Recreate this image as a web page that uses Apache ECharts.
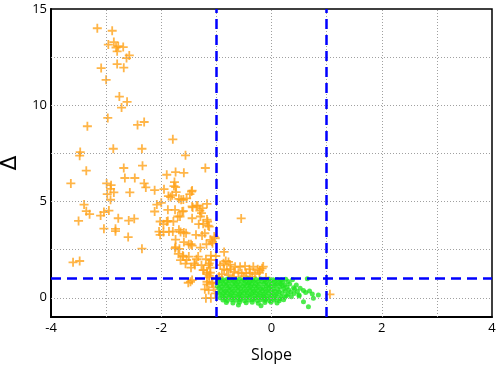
<!DOCTYPE html>
<html>
<head>
<meta charset="utf-8">
<script src="https://cdn.jsdelivr.net/npm/echarts@6/dist/echarts.min.js"></script>
<style>
html, body { margin: 0; padding: 0; background: #fff; }
#main { width: 500px; height: 369px; }
</style>
</head>
<body>
<div id="main"></div>
<script>
// tick positions
var xGrid = [-3, -2, -1, 0, 1, 2, 3];
var xLabels = [-4, -2, 0, 2, 4];
var yGrid = [0, 2.5, 5, 7.5, 10, 12.5];
var yLabels = [0, 5, 10, 15];

// thresholds (blue dashed lines)
var slopeLimits = [-1, 1];
var deltaLimit = [1];

// orange "+" points: slope, delta
var outPts = [
    [-3.16, 14.0], [-2.89, 13.87], [-2.96, 13.15], [-2.86, 13.28], [-2.82, 13.0], [-2.78, 13.07],
    [-2.69, 13.02], [-2.80, 12.8], [-2.58, 12.59], [-2.63, 12.45], [-2.80, 12.14], [-3.09, 11.93],
    [-2.68, 11.95], [-3.0, 11.32], [-2.76, 10.45], [-2.62, 10.18], [-2.72, 9.88], [-2.97, 9.34],
    [-3.34, 8.91], [-2.43, 8.98], [-2.31, 9.13],
    [-1.79, 8.23], [-1.56, 7.40], [-1.20, 6.74], [-1.74, 6.53], [-1.59, 6.49], [-1.90, 6.39],
    [-1.76, 6.01], [-2.35, 7.74], [-2.87, 7.74], [-3.47, 7.57], [-3.48, 7.38], [-3.36, 6.6],
    [-2.68, 6.74], [-2.34, 6.86], [-2.66, 6.22], [-2.48, 6.22], [-2.31, 5.94], [-3.64, 5.94],
    [-2.99, 5.94], [-2.91, 5.85], [-2.28, 5.73], [-2.92, 5.66], [-2.86, 5.47], [-2.98, 5.38],
    [-2.57, 5.47], [-2.12, 5.59], [-1.95, 5.64], [-2.92, 5.09], [-3.40, 4.84], [-2.08, 4.84],
    [-2.0, 4.93], [-3.36, 4.5], [-3.30, 4.34], [-3.10, 4.27], [-3.04, 4.45], [-2.95, 4.53],
    [-2.12, 4.48], [-2.78, 4.13], [-2.59, 4.01], [-2.49, 4.11], [-3.50, 3.99], [-3.04, 3.59],
    [-2.83, 3.58], [-1.96, 3.82], [-2.83, 3.46], [-2.60, 3.15], [-2.35, 2.55], [-3.60, 1.84],
    [-3.48, 1.91],
    [-1.77, 5.8], [-1.73, 5.49], [-1.45, 5.52], [-1.87, 5.28], [-1.83, 5.23], [-1.68, 5.14],
    [-1.60, 5.10], [-1.88, 4.57], [-1.75, 4.57], [-1.60, 4.5], [-1.43, 4.69], [-1.34, 4.78],
    [-1.70, 4.22], [-1.66, 4.22], [-1.29, 4.22], [-1.44, 4.13], [-2.02, 3.96], [-1.88, 3.99],
    [-1.78, 3.96], [-1.32, 3.82], [-1.17, 4.06], [-1.15, 3.75], [-2.04, 3.44], [-2.02, 3.27],
    [-1.86, 3.44], [-1.79, 3.44], [-1.68, 3.53], [-1.65, 3.42], [-1.55, 3.35], [-1.37, 3.27],
    [-1.26, 3.23], [-1.21, 3.35], [-1.74, 3.02], [-1.59, 2.89], [-1.46, 2.78], [-1.18, 2.78],
    [-1.08, 2.92], [-1.02, 3.09], [-1.74, 2.63], [-1.67, 2.54], [-1.29, 2.60], [-1.61, 2.19],
    [-1.50, 2.14], [-1.33, 2.14], [-1.10, 2.19], [-1.65, 1.95], [-1.56, 1.77], [-1.40, 1.79],
    [-1.27, 1.69], [-1.14, 1.70], [-1.10, 1.96], [-1.01, 2.17], [-1.46, 1.56], [-1.23, 1.44],
    [-1.17, 1.32], [-1.13, 1.15], [-1.47, 0.83], [-1.51, 0.78], [-1.17, 0.70], [-1.08, 0.78],
    [-1.14, 0.40], [-1.19, -0.02], [-1.10, -0.02], [-1.02, 0.23],
    [-1.80, 5.33], [-1.44, 5.57], [-1.48, 5.38], [-1.54, 5.16], [-1.64, 5.09], [-1.44, 4.74],
    [-1.36, 4.79], [-1.25, 4.66], [-1.74, 5.75],
    [-1.62, 4.48], [-1.30, 4.53], [-1.27, 4.40], [-1.17, 4.88], [-1.90, 3.96], [-1.96, 3.41],
    [-1.59, 3.39], [-1.16, 3.96], [-1.24, 3.84], [-1.13, 3.70], [-1.75, 2.57], [-1.50, 2.78],
    [-1.44, 2.71], [-1.11, 3.01], [-1.07, 2.83], [-1.04, 3.18], [-1.69, 2.28], [-1.60, 2.14],
    [-1.54, 1.96], [-1.36, 2.0], [-1.19, 2.0], [-1.13, 1.79], [-1.11, 1.56], [-1.24, 1.44],
    [-1.39, 1.70], [-1.11, 1.30],
    [-1.17, 1.23], [-1.13, 1.06], [-1.17, 0.83], [-1.44, 0.92], [-1.07, 0.78], [-1.21, 0.44],
    [-1.05, 0.54],
    [-0.83, 1.91], [-0.87, 1.79], [-0.78, 1.86], [-0.75, 1.72], [-0.93, 1.69], [-0.86, 1.49],
    [-0.81, 1.44], [-0.74, 1.49], [-0.66, 1.61], [-0.57, 1.61], [-0.48, 1.64], [-0.40, 1.48],
    [-0.33, 1.61], [-0.25, 1.48], [-0.17, 1.53], [-0.68, 1.35], [-0.60, 1.30], [-0.54, 1.27],
    [-0.46, 1.27], [-0.39, 1.30], [-0.30, 1.23], [-0.21, 1.41], [-0.90, 1.23], [-0.78, 1.18],
    [-0.86, 2.38], [-0.55, 4.12], [-0.22, 1.30], [-0.15, 1.62], [1.06, 0.18],
    [-0.95, 1.1], [-0.7, 1.08], [-0.5, 1.12], [-0.35, 1.1], [-0.1, 1.05]
];

// green dots: slope, delta
var inPts = [
    [-0.95, 0.96], [-0.88, 0.94], [-0.80, 0.97], [-0.72, 0.95], [-0.65, 0.93], [-0.58, 0.96],
    [-0.50, 0.94], [-0.43, 0.97], [-0.35, 0.93], [-0.28, 0.95], [-0.20, 0.97], [-0.12, 0.94],
    [-0.05, 0.96], [0.03, 0.93], [0.10, 0.95], [0.18, 0.92], [0.26, 0.96], [0.38, 0.94], [0.65, 0.99],
    [-0.97, 0.84], [-0.90, 0.86], [-0.83, 0.83], [-0.76, 0.87], [-0.68, 0.84], [-0.61, 0.82],
    [-0.54, 0.86], [-0.47, 0.84], [-0.40, 0.81], [-0.33, 0.86], [-0.25, 0.83], [-0.17, 0.85],
    [-0.10, 0.82], [-0.02, 0.86], [0.06, 0.84], [0.14, 0.81], [0.20, 0.83], [0.30, 0.85],
    [-0.93, 0.72], [-0.86, 0.70], [-0.79, 0.74], [-0.71, 0.71], [-0.64, 0.73], [-0.57, 0.69],
    [-0.49, 0.72], [-0.42, 0.75], [-0.36, 0.70], [-0.29, 0.73], [-0.22, 0.71], [-0.14, 0.74],
    [-0.07, 0.69], [0.00, 0.72], [0.08, 0.70], [0.16, 0.73], [0.24, 0.68], [0.33, 0.71], [0.45, 0.66],
    [-0.98, 0.60], [-0.90, 0.58], [-0.82, 0.62], [-0.75, 0.59], [-0.67, 0.61], [-0.60, 0.57],
    [-0.52, 0.60], [-0.45, 0.62], [-0.38, 0.58], [-0.31, 0.61], [-0.24, 0.59], [-0.16, 0.56],
    [-0.09, 0.60], [-0.01, 0.58], [0.07, 0.62], [0.15, 0.57], [0.20, 0.61], [0.28, 0.56],
    [0.40, 0.52], [0.52, 0.49],
    [-0.95, 0.48], [-0.87, 0.46], [-0.79, 0.50], [-0.72, 0.47], [-0.64, 0.49], [-0.56, 0.45],
    [-0.49, 0.48], [-0.41, 0.50], [-0.34, 0.46], [-0.27, 0.49], [-0.19, 0.47], [-0.11, 0.44],
    [-0.04, 0.48], [0.04, 0.46], [0.12, 0.43], [0.22, 0.47], [0.31, 0.42], [0.42, 0.45],
    [0.58, 0.38], [0.69, 0.35],
    [-0.92, 0.36], [-0.84, 0.34], [-0.77, 0.38], [-0.69, 0.35], [-0.61, 0.37], [-0.54, 0.33],
    [-0.46, 0.36], [-0.39, 0.38], [-0.32, 0.34], [-0.25, 0.37], [-0.17, 0.35], [-0.10, 0.32],
    [-0.02, 0.36], [0.06, 0.34], [0.14, 0.31], [0.25, 0.35], [0.35, 0.30], [0.47, 0.33], [0.62, 0.27],
    [-0.96, 0.24], [-0.88, 0.22], [-0.81, 0.26], [-0.73, 0.23], [-0.66, 0.25], [-0.58, 0.21],
    [-0.51, 0.24], [-0.44, 0.26], [-0.36, 0.22], [-0.29, 0.25], [-0.21, 0.23], [-0.14, 0.20],
    [-0.06, 0.24], [0.02, 0.22], [0.10, 0.19], [0.19, 0.23], [0.30, 0.18], [0.41, 0.22],
    [0.50, 0.14], [0.74, 0.20],
    [-0.90, 0.12], [-0.83, 0.10], [-0.75, 0.14], [-0.68, 0.11], [-0.60, 0.13], [-0.53, 0.09],
    [-0.45, 0.12], [-0.38, 0.14], [-0.30, 0.10], [-0.23, 0.13], [-0.15, 0.11], [-0.08, 0.08],
    [0.00, 0.12], [0.08, 0.10], [0.17, 0.07], [0.27, 0.11], [0.36, 0.05], [0.50, 0.09], [0.85, 0.14],
    [-0.93, 0.00], [-0.85, -0.02], [-0.77, 0.02], [-0.70, -0.01], [-0.62, 0.01], [-0.55, -0.03],
    [-0.47, 0.00], [-0.40, 0.02], [-0.32, -0.02], [-0.25, 0.01], [-0.17, -0.01], [-0.10, -0.04],
    [-0.02, 0.00], [0.06, -0.02], [0.15, -0.05], [0.24, 0.02], [0.76, -0.03],
    [-0.88, -0.12], [-0.80, -0.14], [-0.72, -0.10], [-0.64, -0.13], [-0.57, -0.11], [-0.49, -0.15],
    [-0.41, -0.12], [-0.34, -0.10], [-0.26, -0.14], [-0.19, -0.11], [-0.11, -0.13], [-0.03, -0.16],
    [0.05, -0.12], [0.14, -0.15], [0.22, -0.10],
    [-0.82, -0.25], [-0.70, -0.27], [-0.58, -0.23], [-0.46, -0.26], [-0.35, -0.24], [-0.24, -0.28],
    [-0.12, -0.25], [-0.01, -0.23], [0.10, -0.27], [0.58, -0.21],
    [-0.60, -0.38], [-0.19, -0.42], [0.67, -0.47]
];

var myChart = echarts.init(document.getElementById('main'));

var tickFont = { color: '#000', fontSize: 13, fontFamily: 'Open Sans' };

// dotted grid drawn as mark lines so x and y spacing can differ from labels
var gridLines = xGrid.map(function (v) { return { xAxis: v }; })
    .concat(yGrid.map(function (v) { return { yAxis: v }; }));
var limitLines = slopeLimits.map(function (v) { return { xAxis: v }; })
    .concat(deltaLimit.map(function (v) { return { yAxis: v }; }));

var option = {
    animation: false,
    grid: {
        left: 51,
        right: 8,
        top: 9,
        bottom: 52,
        outerBoundsMode: 'none',
        containLabel: false,
        show: true,
        borderColor: '#000',
        borderWidth: 1.5
    },
    xAxis: {
        type: 'value',
        min: -4,
        max: 4,
        interval: 1,
        name: 'Slope',
        nameLocation: 'middle',
        nameGap: 30,
        nameTextStyle: { color: '#000', fontSize: 16, fontFamily: 'Open Sans' },
        axisLine: { onZero: false, lineStyle: { color: '#000', width: 2 } },
        axisTick: { show: false },
        axisLabel: Object.assign({ customValues: xLabels, margin: 5 }, tickFont),
        splitLine: { show: false }
    },
    yAxis: {
        type: 'value',
        min: -1,
        max: 15,
        name: 'Δ',
        nameLocation: 'middle',
        nameGap: 25,
        nameTextStyle: { color: '#000', fontSize: 22, fontFamily: 'DejaVu Sans' },
        axisLine: { onZero: false, lineStyle: { color: '#000', width: 2 } },
        axisTick: { show: false },
        axisLabel: Object.assign({ customValues: yLabels, margin: 4 }, tickFont),
        splitLine: { show: false }
    },
    series: [
        {
            type: 'scatter',
            data: [],
            z: 1,
            markLine: {
                silent: true,
                symbol: 'none',
                label: { show: false },
                lineStyle: { color: '#a0a0a0', width: 1, type: [1, 2] },
                data: gridLines
            }
        },
        {
            type: 'scatter',
            data: outPts,
            symbol: 'path://M4,0H6V4H10V6H6V10H4V6H0V4H4Z',
            symbolSize: 9,
            itemStyle: { color: '#ffa31a' },
            silent: true
        },
        {
            type: 'scatter',
            data: inPts,
            symbol: 'circle',
            symbolSize: 5,
            itemStyle: { color: '#22e622' },
            silent: true
        },
        {
            type: 'scatter',
            data: [],
            z: 5,
            markLine: {
                silent: true,
                symbol: 'none',
                label: { show: false },
                lineStyle: { color: '#0000ff', width: 2.5, type: [10, 6] },
                data: limitLines
            }
        }
    ]
};

myChart.setOption(option);
</script>
</body>
</html>
